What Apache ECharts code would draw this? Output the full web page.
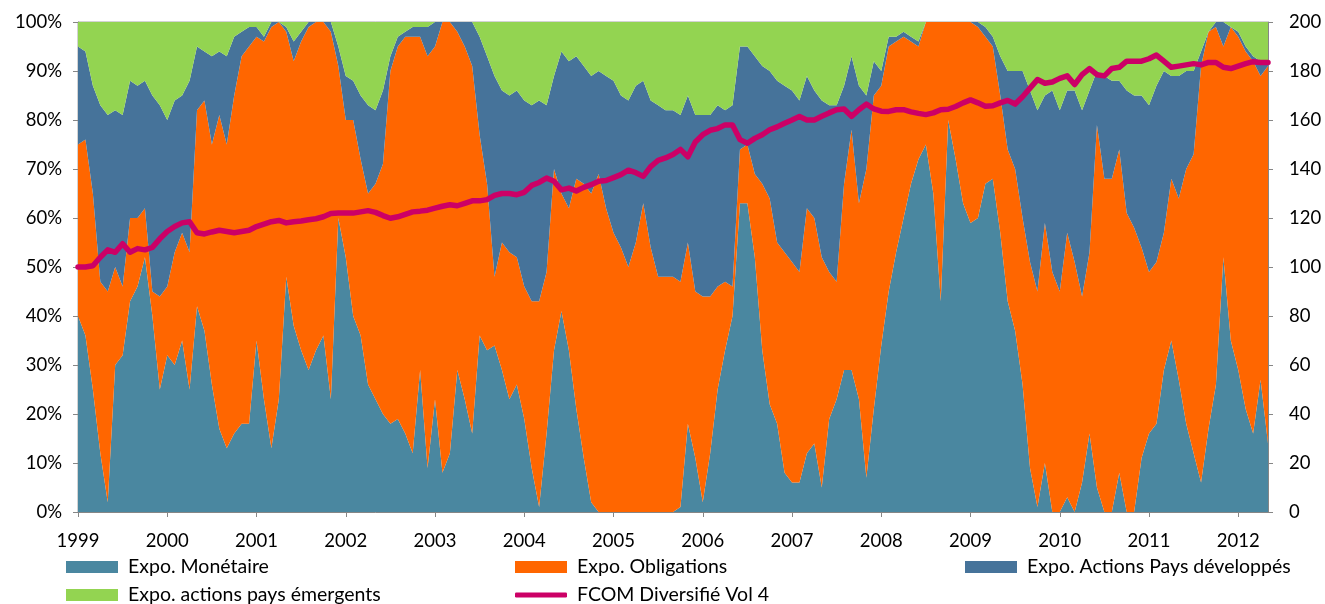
<!DOCTYPE html>
<html>
<head>
<meta charset="utf-8">
<script src="https://cdn.jsdelivr.net/npm/echarts@6/dist/echarts.min.js"></script>
<style>
html,body{margin:0;padding:0;background:#fff;}
#c{width:1325px;height:604px;}
</style>
</head>
<body>
<div id="c"></div>
<script>
// Tick labels (years) and monthly categories Jan 1999 .. May 2012
const yearLabels = ['1999','2000','2001','2002','2003','2004','2005','2006','2007','2008','2009','2010','2011','2012'];
const monthsInLastYear = 5;

// Exposures in % (monthly readings)
const monetaire = [
 40,36,25,12,2,30,32,43,46,52,40,25,
 32,30,35,25,42,37,26,17,13,16,18,18,
 35,23,13,23,48,38,33,29,33,36,23,60,
 52,40,36,26,23,20,18,19,16,12,29,9,
 23,8,12,29,23,16,36,33,34,29,23,26,
 19,9,1,16,33,41,33,21,11,2,0,0,
 0,0,0,0,0,0,0,0,0,1,18,11,
 2,12,25,33,40,63,63,52,33,22,18,8,
 6,6,12,14,5,19,23,29,29,23,7,21,
 34,45,53,60,67,72,75,65,43,80,72,63,
 59,60,67,68,57,43,37,26,9,1,10,0,
 0,3,0,6,16,5,0,0,8,0,0,11,
 16,18,29,35,27,18,12,6,17,26,52,35,
 29,21,16,27,14
];
const obligations = [
 35,40,40,35,43,20,14,17,14,10,5,19,
 14,23,22,28,40,47,49,64,62,69,75,77,
 62,73,86,77,50,54,63,70,67,64,75,31,
 28,40,36,39,44,51,72,76,81,85,68,84,
 72,92,88,69,72,75,41,34,14,26,30,26,
 27,34,42,33,37,24,29,47,56,63,69,62,
 57,54,50,55,63,54,48,48,48,46,37,34,
 42,32,21,14,6,11,12,17,34,42,37,45,
 45,43,50,46,47,30,24,38,49,40,63,64,
 53,50,43,37,29,23,25,35,57,20,28,37,
 41,39,30,27,28,31,33,34,42,44,49,49,
 45,54,51,38,37,74,68,68,66,61,58,43,
 33,33,28,33,37,52,61,85,81,73,43,64,
 68,73,76,62,77
];
const actionsDev = [
 20,18,22,36,36,32,35,28,27,26,40,39,
 34,31,28,35,13,10,18,13,18,12,5,4,
 2,1,1,0,1,4,2,1,0,0,2,4,
 9,8,13,18,15,15,3,2,1,2,2,6,
 5,0,0,2,5,9,20,26,41,31,32,34,
 38,40,41,34,19,29,30,25,24,24,21,27,
 31,31,34,32,25,30,35,34,34,34,30,36,
 37,37,37,35,37,21,20,24,24,26,33,34,
 35,35,27,26,32,34,36,20,15,24,15,7,
 3,2,1,1,1,1,0,0,0,0,0,0,
 0,1,2,2,8,16,20,30,35,37,26,37,
 37,29,35,38,33,11,21,20,14,25,27,31,
 34,36,33,21,25,20,17,3,0,1,5,0,
 1,1,1,3,1
];
const actionsEm = [
 5,6,13,17,19,18,19,12,13,12,15,17,
 20,16,15,12,5,6,7,6,7,3,2,1,
 1,3,0,0,1,4,2,0,0,0,0,5,
 11,12,15,17,18,14,7,3,2,1,1,1,
 0,0,0,0,0,0,3,7,11,14,15,14,
 16,17,16,17,11,6,8,7,9,11,10,11,
 12,15,16,13,12,16,17,18,18,19,15,19,
 19,19,17,18,17,5,5,7,9,10,12,13,
 14,16,11,14,16,17,17,13,7,13,15,8,
 10,3,3,2,3,4,0,0,0,0,0,0,
 0,0,1,3,7,10,10,10,14,18,15,14,
 18,14,14,18,14,10,11,12,12,14,15,15,
 17,13,10,11,11,10,10,6,2,0,0,1,
 2,5,7,8,8
];
// FCOM Diversifié Vol 4 (base 100)
const fcom = [
 100,100,100.5,104,107,106,109.5,106,107.5,107,108,111.5,
 114.5,116.5,118,118.5,114,113.5,114.3,115,114.5,114,114.5,115,
 116.5,117.5,118.5,119,118,118.5,118.8,119.3,119.7,120.5,121.8,122,
 122,122,122.5,123,122.3,121,119.9,120.5,121.5,122.5,122.8,123.2,
 124,124.8,125.4,125,126,127,127,127.5,129.2,130,130,129.5,
 130.5,133.3,134.5,136.3,135,131.5,132.2,131,132.5,133.6,135,135.3,
 136.5,137.7,139.5,138.5,137,141,143.5,144.5,145.9,148,145,151,
 154,155.8,156.5,158,158,152,150.5,152.5,154,156,157.2,158.7,
 160,161.4,160,160,161.5,162.9,164.2,164.5,161.5,164.2,166.5,164.5,
 163.6,163.5,164.2,164.2,163.3,162.7,162.2,162.9,164.2,164.4,165.5,167,
 168.2,167,165.6,165.8,167,168,166.5,169.5,173,176.5,175,175.5,
 177,178,174.5,178.5,181,178.5,178,181,181.5,184,184,184,
 185,186.5,184,181.5,182,182.5,183,182.5,183.5,183.5,181.5,181,
 182,183,183.8,183.5,183.5
];

const categories = [];
yearLabels.forEach((y, i) => {
  const n = (i === yearLabels.length - 1) ? monthsInLastYear : 12;
  for (let m = 1; m <= n; m++) categories.push(y + '-' + (m < 10 ? '0' + m : '' + m));
});

const FONT = 'Lato, "Open Sans", sans-serif';
const COLORS = {
  mon: '#4A87A0',
  obl: '#FF6600',
  dev: '#46739A',
  em: '#93D451',
  fcom: '#CC0066'
};
const isYearStart = (idx, val) => String(val).slice(5) === '01';

function areaSeries(name, data, color) {
  return {
    name: name, type: 'line', stack: 'expo', data: data,
    symbol: 'none', showSymbol: false,
    lineStyle: { width: 0 },
    areaStyle: { color: color, opacity: 1 },
    itemStyle: { color: color },
    emphasis: { disabled: true },
    animation: false
  };
}

const legendText = { fontFamily: FONT, fontSize: 19.5, color: '#000', padding: [0, 0, 0, 5] };
function legend(name, left, top, h, icon) {
  return {
    data: [icon ? { name: name, icon: icon } : name],
    left: left, top: top, itemWidth: 52, itemHeight: h, padding: 0,
    textStyle: legendText, selectedMode: false
  };
}

const chart = echarts.init(document.getElementById('c'), null, { renderer: 'canvas' });
chart.setOption({
  animation: false,
  backgroundColor: '#fff',
  grid: { left: 78, right: 57, top: 22, bottom: 92, show: true, borderColor: '#a6a6a6', borderWidth: 1, backgroundColor: 'transparent' },
  legend: [
    legend('Expo. Monétaire', 66, 557, 12, 'rect'),
    legend('Expo. Obligations', 515, 557, 12, 'rect'),
    legend('Expo. Actions Pays développés', 965, 557, 12, 'rect'),
    legend('Expo. actions pays émergents', 66, 585, 12, 'rect'),
    legend('FCOM Diversifié Vol 4', 515, 585, 5, 'roundRect')
  ],
  xAxis: {
    type: 'category', data: categories, boundaryGap: false,
    axisLine: { lineStyle: { color: '#868686', width: 1 } },
    axisTick: { show: true, interval: isYearStart, length: 5, lineStyle: { color: '#868686' } },
    axisLabel: {
      interval: isYearStart, margin: 20,
      formatter: v => v.slice(0, 4),
      fontFamily: FONT, fontSize: 18.5, color: '#000'
    },
    splitLine: { show: false }
  },
  yAxis: [
    {
      type: 'value', min: 0, max: 100, interval: 10, position: 'left',
      axisLine: { show: true, lineStyle: { color: '#868686' } },
      axisTick: { show: true, length: 5, lineStyle: { color: '#868686' } },
      axisLabel: { formatter: '{value}%', margin: 16, fontFamily: FONT, fontSize: 18.5, color: '#000' },
      splitLine: { show: false }
    },
    {
      type: 'value', min: 0, max: 200, interval: 20, position: 'right',
      axisLine: { show: true, lineStyle: { color: '#868686' } },
      axisTick: { show: true, length: 5, lineStyle: { color: '#868686' } },
      axisLabel: { margin: 21, fontFamily: FONT, fontSize: 18.5, color: '#000' },
      splitLine: { show: false }
    }
  ],
  series: [
    areaSeries('Expo. Monétaire', monetaire, COLORS.mon),
    areaSeries('Expo. Obligations', obligations, COLORS.obl),
    areaSeries('Expo. Actions Pays développés', actionsDev, COLORS.dev),
    areaSeries('Expo. actions pays émergents', actionsEm, COLORS.em),
    {
      name: 'FCOM Diversifié Vol 4', type: 'line', yAxisIndex: 1, data: fcom,
      symbol: 'none', showSymbol: false, z: 5,
      lineStyle: { color: COLORS.fcom, width: 5.5, join: 'round', cap: 'round' },
      itemStyle: { color: COLORS.fcom },
      emphasis: { disabled: true }
    }
  ]
});
</script>
</body>
</html>
